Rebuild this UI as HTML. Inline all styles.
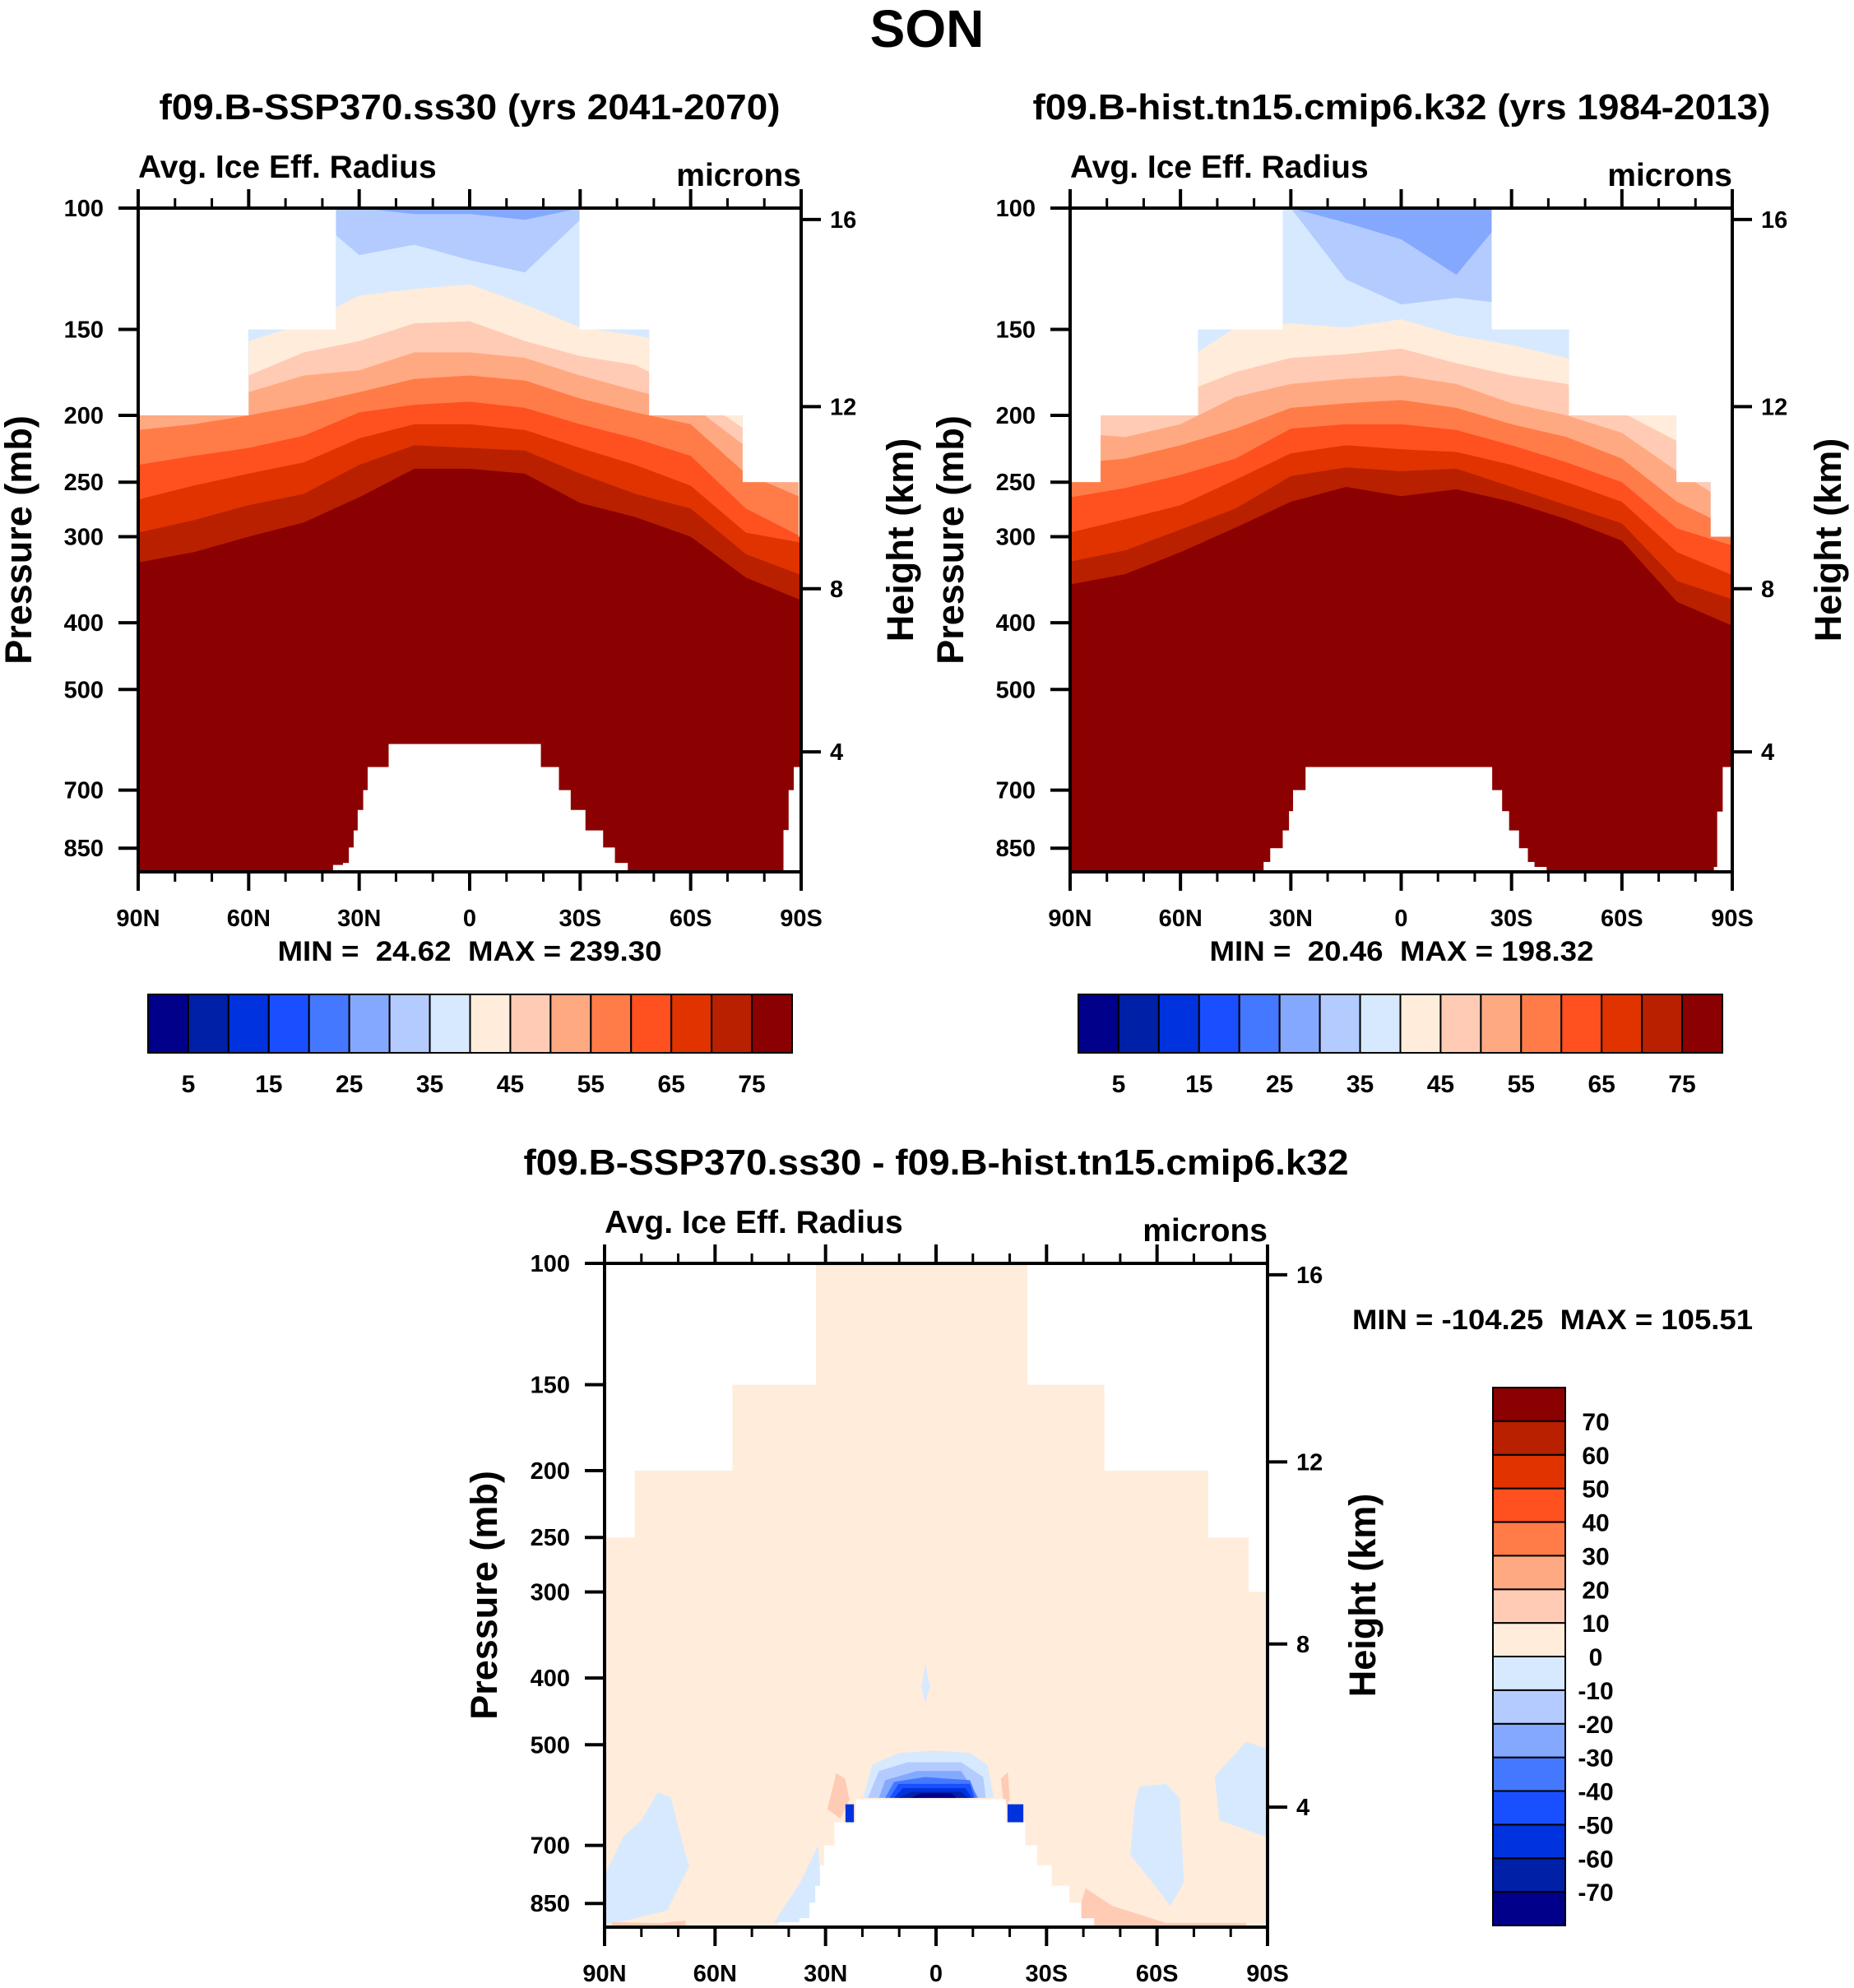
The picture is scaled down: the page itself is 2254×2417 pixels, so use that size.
<!DOCTYPE html>
<html><head><meta charset="utf-8">
<style>
html,body{margin:0;padding:0;background:#fff;}
svg{display:block;font-family:"Liberation Sans",Arial,sans-serif;font-weight:bold;}
text{white-space:pre;}
</style></head>
<body>
<svg id="fig" xmlns="http://www.w3.org/2000/svg" width="2254" height="2417" viewBox="0 0 2254 2417">
<rect x="0" y="0" width="2254" height="2417" fill="#fff"/>
<text x="1127" y="57" font-size="64" text-anchor="middle">SON</text>
<text x="571" y="145" font-size="44" text-anchor="middle" textLength="755" lengthAdjust="spacingAndGlyphs">f09.B-SSP370.ss30 (yrs 2041-2070)</text>
<text x="1704" y="145" font-size="44" text-anchor="middle" textLength="897" lengthAdjust="spacingAndGlyphs">f09.B-hist.tn15.cmip6.k32 (yrs 1984-2013)</text>
<text x="1138" y="1428" font-size="44" text-anchor="middle" textLength="1003" lengthAdjust="spacingAndGlyphs">f09.B-SSP370.ss30 - f09.B-hist.tn15.cmip6.k32</text>
<text x="571" y="1168" font-size="34" text-anchor="middle" textLength="467" lengthAdjust="spacingAndGlyphs" xml:space="preserve">MIN =  24.62  MAX = 239.30</text>
<text x="1704" y="1168" font-size="34" text-anchor="middle" textLength="467" lengthAdjust="spacingAndGlyphs" xml:space="preserve">MIN =  20.46  MAX = 198.32</text>
<text x="1644" y="1616" font-size="34" textLength="487" lengthAdjust="spacingAndGlyphs" xml:space="preserve">MIN = -104.25  MAX = 105.51</text>
<g id="layer"></g>
</svg>
<script>
// ---- data ----
const levelColors = ['#00008b','#0020a8','#0033dd','#1a4fff','#4478ff','#85a8ff','#b3cbff','#d6e9ff','#ffecdb','#ffcbb4','#ffa982','#ff7c48','#ff5020','#e03300','#b82000','#8b0000'];
const bandLats = [90,75,60,45,30,15,0,-15,-30,-45,-60,-75,-90];
// panel 1: pressure (mb) of the upper edge of each contour band (level 6..15)
const p1_l6  = [100,100,100,100,100,102,102,104,100,100,100,100,100];
const p1_l7  = [100,100,100,100,117,113,119,124,104,100,100,100,100];
const p1_l8  = [159,159,156,147,134,131,129,138,149,153,159,193,212];
const p1_l9  = [175,175,175,162,156,147,146,156,164,169,185,210,234];
const p1_l10 = [193,193,185,175,172,162,162,165,175,184,193,222,248];
const p1_l11 = [210,206,200,193,185,177,175,178,189,198,206,243,263];
const p1_l12 = [236,229,223,214,198,193,191,195,206,216,229,273,300];
const p1_l13 = [265,253,243,234,216,206,206,210,223,236,253,296,306];
const p1_l14 = [296,284,270,260,236,221,223,225,243,260,273,318,341];
const p1_l15 = [327,316,300,286,263,239,239,243,268,281,300,344,371];
// panel 2
const p2_l6  = [100,100,100,100,100,105,111,125,100,100,100,100,100];
const p2_l7  = [100,100,100,100,100,127,138,135,138,100,100,100,100];
const p2_l8  = [168,168,168,149,147,149,145,153,158,165,190,200,231];
const p2_l9  = [200,200,186,173,165,163,160,168,175,180,198,218,240];
const p2_l10 = [212,215,206,188,180,177,175,180,192,200,212,241,270];
const p2_l11 = [235,231,221,209,195,192,190,195,206,215,231,267,292];
const p2_l12 = [263,255,244,231,209,206,206,210,221,234,250,292,309];
const p2_l13 = [296,283,270,248,227,221,224,226,236,250,267,316,341];
const p2_l14 = [326,314,293,273,245,238,241,239,254,270,287,348,370];
const p2_l15 = [352,340,316,291,267,254,262,256,267,283,304,373,404];
// data domain top (mb) by latitude steps
const mask1Edges = [90,60,36.3,-29.8,-48.7,-74.1,-89.3,-90];
const mask1Tops  = [200,150,100,150,200,250,300];
const mask2Edges = [90,81.7,55.2,32.2,-24.6,-45.6,-74.8,-84.1,-90];
const mask2Tops  = [250,200,150,100,150,200,250,300];
const mask3Edges = [90,81.8,55.3,32.6,-24.8,-45.7,-73.9,-84.9,-90];
const mask3Tops  = [250,200,150,100,150,200,250,300];
// surface (topography) pressure steps
const topo1Edges = [37.1,34.4,32.8,31.5,30.4,28.9,27.7,22,-19.2,-24.1,-27.3,-31.3,-36.1,-39.3,-42.8];
const topo1Tops  = [899,893,848,801,748,700,648,600,648,700,748,801,848,893];
const ant1Edges = [-85.2,-86.6,-88,-90];
const ant1Tops  = [800,700,648];
const topo2Edges = [37.4,35.6,32.2,30.5,29.4,27.7,26,-24.6,-27.3,-29.2,-31.9,-34.3,-36.1,-39.4];
const topo2Tops  = [890,850,801,751,700,700,648,700,751,801,850,890,905];
const ant2Edges = [-85,-85.9,-87.4,-90];
const ant2Tops  = [905,752,648];
const topo3Edges = [42.8,37.1,34.4,32.8,31.5,30.4,27.6,21.8,-18.9,-24.1,-27.3,-31.3,-36.1,-39.3,-42.8];
const topo3Tops  = [905,893,848,801,748,700,648,600,648,700,748,801,848,893];
// panel 3 difference patches (lat, mb) with their level index
const d_blueNorthLat = [90,85,80,75.5,72,68,67,73,90];
const d_blueNorthP   = [775,681,643,586,597,722,750,870,916];
const d_blueSouthLat = [-55.2,-62.4,-66.1,-67.3,-63.6,-60,-52.7,-54];
const d_blueSouthP   = [575,570,597,792,857,808,722,608];
const d_bluePoleLat  = [-75.7,-84.2,-89,-90,-90,-85.4,-76.9];
const d_bluePoleP    = [555,495,505,505,681,668,643];
const d_blueMidLat   = [44,36.8,32,30.8,33];
const d_blueMidP     = [905,792,700,905,920];
const d_sliverLat    = [3.9,2.9,1.7,2.9];
const d_sliverP      = [412,381,412,435];
const d_eq7Lat = [19.8,17.4,10.2,0.5,-9.2,-14,-15.7];
const d_eq7P   = [597,535,514,510,514,535,597];
const d_eq6Lat = [18.5,15.5,7.7,-6.8,-12.8,-13.5];
const d_eq6P   = [597,546,530,530,557,597];
const d_eq5Lat = [15.5,13.8,5.3,-6.8,-11.6];
const d_eq5P   = [597,563,546,546,597];
const d_eq4Lat = [13.8,11.4,2.9,-9.2,-11.1];
const d_eq4P   = [597,566,557,563,597];
const d_eq3Lat = [12.6,10.2,-9.2,-10.4];
const d_eq3P   = [597,570,570,597];
const d_eq2Lat = [11.4,9,-8,-9.7];
const d_eq2P   = [597,578,578,597];
const d_eq1Lat = [10.2,6.6,-6.8,-8.7];
const d_eq1P   = [597,585,585,597];
const d_eq0Lat = [6.6,4.2,-4.2,-5.5];
const d_eq0P   = [597,588,588,597];
const d_sqNLat = [24.6,22.3,22.3,24.6];
const d_sqNP   = [610,610,648,648];
const d_sqSLat = [-19.4,-23.7,-23.7,-19.4];
const d_sqSP   = [610,610,648,648];
const d_orN_Lat = [29.5,27.1,24.7,23.5,26];
const d_orN_P   = [620,550,560,600,640];
const d_orS_Lat = [-17.6,-19.5,-20,-18.5];
const d_orS_P   = [560,548,600,620];
const d_orSE_Lat = [-38.2,-40.6,-47.9,-62.4,-84.2,-84.2,-38.2];
const d_orSE_P   = [890,808,857,907,907,924,924];
const d_orNW_Lat = [88,75,68,68,88];
const d_orNW_P   = [905,908,900,920,920];
// ticks / labels
const presTicks = [100,150,200,250,300,400,500,700,850];
const kmLabels = [16,12,8,4];
const kmPres   = [103.9,194.2,357,616];
const latMajor = [90,60,30,0,-30,-60,-90];
const latLabels = ['90N','60N','30N','0','30S','60S','90S'];
const latMinor = [80,70,50,40,20,10,-10,-20,-40,-50,-70,-80];
const cbLabelsH = ['5','15','25','35','45','55','65','75'];
const cbLabelsV = ['70','60','50','40','30','20','10','0','-10','-20','-30','-40','-50','-60','-70'];
const P_BOTTOM = 920;

// ---- drawing ----
const NS = 'http://www.w3.org/2000/svg';
const layer = document.getElementById('layer');
function mk(tag, attrs, parent){ const e=document.createElementNS(NS,tag); for(const k in attrs) e.setAttribute(k,attrs[k]); (parent||layer).appendChild(e); return e; }

function panel(P){
  const xS = lat => P.x0 + (90-lat)/180*P.w;
  const yS = p => P.y0 + Math.log10(p/100)/Math.log10(P_BOTTOM/100)*P.h;
  const g = mk('g',{});
  
  
  let d = 'M'+xS(90)+','+yS(P_BOTTOM);
  for(let i=0;i<P.maskTops.length;i++){
    d += ' L'+xS(P.maskEdges[i])+','+yS(P.maskTops[i])+' L'+xS(P.maskEdges[i+1])+','+yS(P.maskTops[i]);
  }
  d += ' L'+xS(-90)+','+yS(P_BOTTOM)+' Z';
  const cp = mk('clipPath',{id:P.id+'-clip'}, g);
  mk('path',{d:d}, cp);
  const field = mk('g',{'clip-path':'url(#'+P.id+'-clip)'}, g);
  
  
  const base = mk('rect',{x:P.x0,y:P.y0,width:P.w,height:P.h,fill:levelColors[P.baseLevel]}, field);
  
  
  (P.bands||[]).forEach((arr,k)=>{
    const lvl = P.baseLevel+1+k;
    let pd = 'M'+xS(90)+','+yS(P_BOTTOM);
    bandLats.forEach((la,i)=>{ pd += ' L'+xS(la)+','+yS(arr[i]); });
    pd += ' L'+xS(-90)+','+yS(P_BOTTOM)+' Z';
    const b = mk('path',{d:pd, fill:levelColors[lvl]}, field);
    
    
  });
  (P.patches||[]).forEach(pt=>{
    let pd = '';
    pt.lat.forEach((la,i)=>{ pd += (i?' L':'M')+xS(la)+','+yS(pt.p[i]); });
    pd += ' Z';
    const b = mk('path',{d:pd, fill:levelColors[pt.level]}, field);
    
    
  });
  [[P.topoEdges,P.topoTops],[P.antEdges,P.antTops]].forEach(([E,T])=>{
    for(let i=0;i<T.length;i++){
      const xa=xS(E[i]), xb=xS(E[i+1]);
      const r = mk('rect',{x:Math.min(xa,xb),y:yS(T[i]),width:Math.abs(xb-xa)+0.6,height:P.y0+P.h-yS(T[i]),fill:'#fff'}, field);
      
      
    }
  });
  const fr = mk('rect',{x:P.x0,y:P.y0,width:P.w,height:P.h,fill:'none',stroke:'#000','stroke-width':4}, g);
  
  
  presTicks.forEach(p=>{
    const y=yS(p);
    const t = mk('line',{x1:P.x0-24,x2:P.x0,y1:y,y2:y,stroke:'#000','stroke-width':4}, g);
    
    
    const tx = mk('text',{x:P.x0-42,y:y+10,'font-size':29,'text-anchor':'end'}, g);
    tx.textContent = p;
    
    
  });
  kmLabels.forEach((k,i)=>{
    const y=yS(kmPres[i]);
    const t = mk('line',{x1:P.x0+P.w,x2:P.x0+P.w+24,y1:y,y2:y,stroke:'#000','stroke-width':4}, g);
    
    
    const tx = mk('text',{x:P.x0+P.w+35,y:y+10,'font-size':29}, g);
    tx.textContent = k;
    
    
  });
  latMajor.forEach((la,i)=>{
    const x=xS(la);
    const t1 = mk('line',{x1:x,x2:x,y1:P.y0-23,y2:P.y0,stroke:'#000','stroke-width':4}, g);
    
    
    const t2 = mk('line',{x1:x,x2:x,y1:P.y0+P.h,y2:P.y0+P.h+23,stroke:'#000','stroke-width':4}, g);
    
    
    const tx = mk('text',{x:x,y:P.y0+P.h+66,'font-size':29,'text-anchor':'middle'}, g);
    tx.textContent = latLabels[i];
    
    
  });
  latMinor.forEach(la=>{
    const x=xS(la);
    const t1 = mk('line',{x1:x,x2:x,y1:P.y0-12,y2:P.y0,stroke:'#000','stroke-width':3}, g);
    
    
    const t2 = mk('line',{x1:x,x2:x,y1:P.y0+P.h,y2:P.y0+P.h+12,stroke:'#000','stroke-width':3}, g);
    
    
  });
  const a1 = mk('text',{x:P.x0,y:P.y0-37,'font-size':39}, g);
  a1.textContent = 'Avg. Ice Eff. Radius';
  
  
  const a2 = mk('text',{x:P.x0+P.w,y:P.y0-27,'font-size':39,'text-anchor':'end'}, g);
  a2.textContent = 'microns';
  
  
  const cy = P.y0+P.h/2;
  const ya = mk('text',{x:0,y:0,'font-size':45,'text-anchor':'middle',transform:'translate('+(P.presX+16)+','+cy+') rotate(-90)'}, g);
  ya.textContent = 'Pressure (mb)';
  
  
  const yb = mk('text',{x:0,y:0,'font-size':45,'text-anchor':'middle',transform:'translate('+(P.x0+P.w+P.hOff+16)+','+cy+') rotate(-90)'}, g);
  yb.textContent = 'Height (km)';
  
  
}

panel({id:'panel1',x0:168,y0:253,w:806,h:807,baseLevel:5,
  bands:[p1_l6,p1_l7,p1_l8,p1_l9,p1_l10,p1_l11,p1_l12,p1_l13,p1_l14,p1_l15],
  maskEdges:mask1Edges,maskTops:mask1Tops,topoEdges:topo1Edges,topoTops:topo1Tops,antEdges:ant1Edges,antTops:ant1Tops,
  presX:22,hOff:120});
panel({id:'panel2',x0:1301,y0:253,w:805,h:807,baseLevel:5,
  bands:[p2_l6,p2_l7,p2_l8,p2_l9,p2_l10,p2_l11,p2_l12,p2_l13,p2_l14,p2_l15],
  maskEdges:mask2Edges,maskTops:mask2Tops,topoEdges:topo2Edges,topoTops:topo2Tops,antEdges:ant2Edges,antTops:ant2Tops,
  presX:1155,hOff:116});
panel({id:'panel3',x0:735,y0:1536,w:806,h:807,baseLevel:8,
  patches:[
    {name:'neg-patch-north',lat:d_blueNorthLat,p:d_blueNorthP,level:7},
    {name:'neg-patch-south',lat:d_blueSouthLat,p:d_blueSouthP,level:7},
    {name:'neg-patch-pole',lat:d_bluePoleLat,p:d_bluePoleP,level:7},
    {name:'neg-patch-mid',lat:d_blueMidLat,p:d_blueMidP,level:7},
    {name:'neg-sliver',lat:d_sliverLat,p:d_sliverP,level:7},
    {name:'pos-patch-north',lat:d_orN_Lat,p:d_orN_P,level:9},
    {name:'pos-patch-south',lat:d_orS_Lat,p:d_orS_P,level:9},
    {name:'pos-patch-southeast',lat:d_orSE_Lat,p:d_orSE_P,level:9},
    {name:'pos-patch-northwest',lat:d_orNW_Lat,p:d_orNW_P,level:9},
    {name:'eq-level7',lat:d_eq7Lat,p:d_eq7P,level:7},
    {name:'eq-level6',lat:d_eq6Lat,p:d_eq6P,level:6},
    {name:'eq-level5',lat:d_eq5Lat,p:d_eq5P,level:5},
    {name:'eq-level4',lat:d_eq4Lat,p:d_eq4P,level:4},
    {name:'eq-level3',lat:d_eq3Lat,p:d_eq3P,level:3},
    {name:'eq-level2',lat:d_eq2Lat,p:d_eq2P,level:2},
    {name:'eq-level1',lat:d_eq1Lat,p:d_eq1P,level:1},
    {name:'eq-level0',lat:d_eq0Lat,p:d_eq0P,level:0},
    {name:'neg-square-north',lat:d_sqNLat,p:d_sqNP,level:2},
    {name:'neg-square-south',lat:d_sqSLat,p:d_sqSP,level:2}
  ],
  maskEdges:mask3Edges,maskTops:mask3Tops,topoEdges:topo3Edges,topoTops:topo3Tops,antEdges:[-89,-90],antTops:[910],
  presX:588,hOff:115});

function hbar(id,x0,y0,w,h){
  const bw = w/levelColors.length;
  levelColors.forEach((c,i)=>{
    const r = mk('rect',{x:x0+i*bw,y:y0,width:bw,height:h,fill:c,stroke:'#000','stroke-width':2});
    
    
  });
  cbLabelsH.forEach((t,k)=>{
    const tx = mk('text',{x:x0+(2*k+1)*bw,y:y0+h+48,'font-size':30,'text-anchor':'middle'});
    tx.textContent = t;
    
    
  });
}
hbar('colorbar1',180,1209,783,71);
hbar('colorbar2',1311,1209,783,71);
(function(){
  const x0=1815,y0=1687,w=88,h=654,bh=h/levelColors.length;
  levelColors.forEach((c,i)=>{
    const r = mk('rect',{x:x0,y:y0+(levelColors.length-1-i)*bh,width:w,height:bh,fill:c,stroke:'#000','stroke-width':2});
    
    
  });
  cbLabelsV.forEach((t,k)=>{
    const tx = mk('text',{x:1940,y:y0+(k+1)*bh+11,'font-size':30,'text-anchor':'middle'});
    tx.textContent = t;
    
    
  });
})();
</script>
</body></html>
